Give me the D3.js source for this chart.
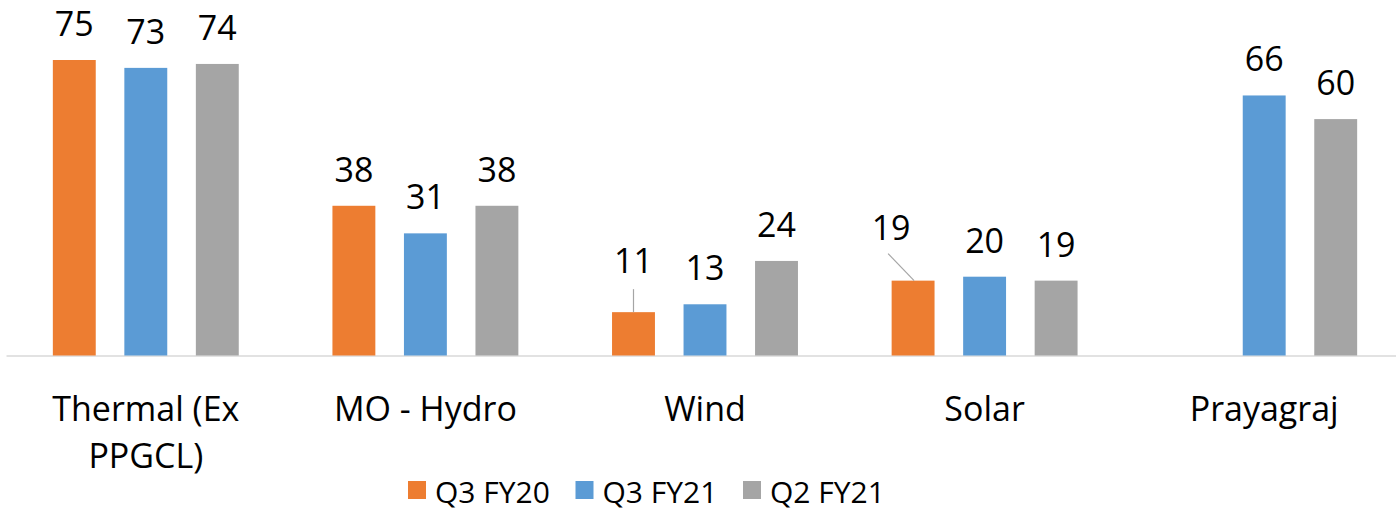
<!DOCTYPE html>
<html>
<head>
<meta charset="utf-8">
<script src="https://cdn.jsdelivr.net/npm/d3@7"></script>
<style>
  body { margin: 0; background: #fff; }
  svg { display: block; font-family: 'Open Sans', sans-serif; }
</style>
</head>
<body>
<svg id="chart" width="1396" height="512"></svg>
<script>
const categories = ['Thermal (Ex\nPPGCL)', 'MO - Hydro', 'Wind', 'Solar', 'Prayagraj'];
const seriesNames = ['Q3 FY20', 'Q3 FY21', 'Q2 FY21'];
const q3fy20 = [75, 38, 11, 19, null];
const q3fy21 = [73, 31, 13, 20, 66];
const q2fy21 = [74, 38, 24, 19, 60];
const colors = ['#ED7D31', '#5B9BD5', '#A5A5A5'];

// labels that Excel pushed off the bar, with a leader line
const labelShift = {
  'Wind|Q3 FY20': {dx: 0, dy: -15},
  'Solar|Q3 FY20': {dx: -22, dy: -17}
};

const seriesValues = [q3fy20, q3fy21, q2fy21];
const svg = d3.select('#chart');
const baseY = 355.5;

const x0 = d3.scaleBand()
  .domain(categories)
  .range([6, 1404]);

const x1 = d3.scaleBand()
  .domain(seriesNames)
  .range([0, x0.bandwidth()])
  .paddingInner(0.4)
  .paddingOuter(0.655);

const y = d3.scaleLinear()
  .domain([0, 80])
  .range([baseY, baseY - 80 * 3.94]);

const rows = categories.map((c, i) => ({
  category: c,
  values: seriesNames.map((s, j) => ({series: s, idx: j, value: seriesValues[j][i]}))
    .filter(d => d.value != null)
}));

// axis line
const axis = svg.append('g')
  .attr('transform', `translate(0, ${baseY})`)
  .call(d3.axisBottom(x0).tickSize(0).tickFormat(''));
axis.select('.domain').attr('stroke', '#d9d9d9').attr('stroke-width', 1.5);
axis.selectAll('.tick').remove();

const groups = svg.selectAll('g.group')
  .data(rows)
  .enter()
  .append('g')
  .attr('class', 'group')
  .attr('transform', d => `translate(${x0(d.category)}, 0)`);

groups.selectAll('rect')
  .data(d => d.values)
  .enter()
  .append('rect')
  .attr('x', d => x1(d.series))
  .attr('width', x1.bandwidth())
  .attr('y', d => y(d.value))
  .attr('height', d => baseY - y(d.value))
  .attr('fill', d => colors[d.idx]);

groups.each(function (row) {
  const g = d3.select(this);
  const key = row.category.split('\n')[0];
  row.values.forEach(d => {
    const cx = x1(d.series) + x1.bandwidth() / 2;
    const top = y(d.value);
    const shift = labelShift[key + '|' + d.series] || {dx: 0, dy: 0};
    const lx = cx + shift.dx;
    const ly = top - 24 + shift.dy;
    if (shift.dx !== 0 || shift.dy !== 0) {
      const sx = shift.dx === 0 ? cx : lx - 3;
      g.append('line')
        .attr('x1', sx)
        .attr('y1', ly + (shift.dx === 0 ? 16 : 14))
        .attr('x2', cx + (shift.dx === 0 ? 0 : 1))
        .attr('y2', top)
        .attr('stroke', '#a5a5a5')
        .attr('stroke-width', 1.2);
    }
    g.append('text')
      .attr('x', lx)
      .attr('y', ly)
      .attr('text-anchor', 'middle')
      .attr('font-size', 34)
      .attr('fill', '#000')
      .text(d.value);
  });
});

// category labels
svg.selectAll('text.cat')
  .data(categories)
  .enter()
  .append('text')
  .attr('class', 'cat')
  .attr('text-anchor', 'middle')
  .attr('font-size', 34)
  .attr('fill', '#000')
  .each(function (c) {
    const t = d3.select(this);
    c.split('\n').forEach((line, i) => {
      t.append('tspan')
        .attr('x', x0(c) + x0.bandwidth() / 2)
        .attr('y', 421 + i * 47)
        .text(line);
    });
  });

// legend
const legend = svg.append('g').attr('transform', 'translate(408, 0)');
const items = legend.selectAll('g')
  .data(seriesNames)
  .enter()
  .append('g')
  .attr('transform', (d, i) => `translate(${i * 167.5}, 0)`);
items.append('rect')
  .attr('x', 0)
  .attr('y', 481)
  .attr('width', 18)
  .attr('height', 18)
  .attr('fill', (d, i) => colors[i]);
items.append('text')
  .attr('x', 27)
  .attr('y', 503)
  .attr('font-size', 30)
  .attr('fill', '#000')
  .text(d => d);
</script>
</body>
</html>
